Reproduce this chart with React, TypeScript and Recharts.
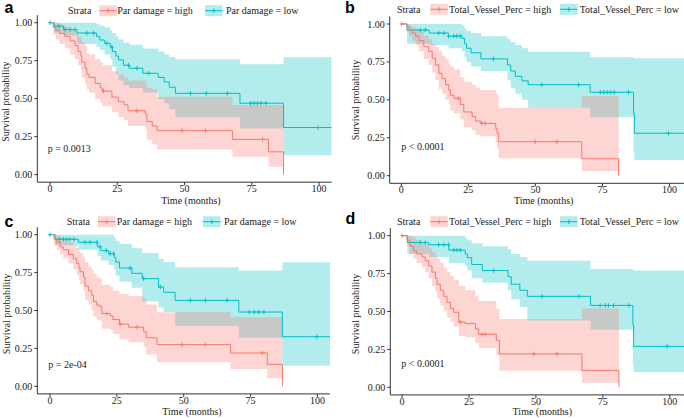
import React from 'react';
import { ComposedChart, XAxis, YAxis, Area, Line, Scatter } from 'recharts';

type Row = [number, number, number, number]; // time, survival, lower CI, upper CI

const RED = '#F8766D';
const CYAN = '#00BFC4';
const SERIF = '"Liberation Serif", "Times New Roman", serif';
const SANS = '"Liberation Sans", Arial, sans-serif';

const xTicks = [0, 25, 50, 75, 100];
const yTicks = [0, 0.25, 0.5, 0.75, 1];
const panelLetters = ['a', 'b', 'c', 'd'];
const pValues = ['p = 0.0013', 'p < 0.0001', 'p = 2e-04', 'p < 0.0001'];
const parLabels = ['Par damage = high', 'Par damage = low'];
const vesselLabels = ['Total_Vessel_Perc = high', 'Total_Vessel_Perc = low'];
const strataTitle = 'Strata';
const xTitle = 'Time (months)';
const yTitle = 'Survival probability';

// ---- Panel a ----
const aHigh: Row[] = [
  [0, 1, 1, 1], [1.2, 0.97, 0.92, 1], [2.2, 0.95, 0.89, 1], [3.5, 0.93, 0.86, 0.99],
  [5.5, 0.91, 0.83, 0.97], [7.5, 0.88, 0.79, 0.95], [9.3, 0.85, 0.76, 0.93], [10.5, 0.81, 0.72, 0.91],
  [11.5, 0.78, 0.68, 0.89], [11.8, 0.74, 0.64, 0.87], [13, 0.7, 0.6, 0.85], [13.7, 0.66, 0.56, 0.8],
  [14.5, 0.64, 0.54, 0.79], [16.8, 0.6, 0.5, 0.76], [18.7, 0.57, 0.47, 0.74], [19.5, 0.55, 0.45, 0.72],
  [23, 0.51, 0.41, 0.68], [25.4, 0.48, 0.38, 0.66], [27.5, 0.46, 0.36, 0.64], [29, 0.42, 0.32, 0.62],
  [35.4, 0.4, 0.3, 0.6], [36, 0.35, 0.23, 0.57], [38, 0.32, 0.2, 0.56], [39.8, 0.289, 0.166, 0.513],
  [67.8, 0.232, 0.117, 0.458], [81.2, 0.15, 0.051, 0.458], [86.8, 0, 0.051, 0.458],
];
const aLow: Row[] = [
  [0, 1, 1, 1], [1.5, 0.977, 0.935, 1], [5, 0.955, 0.915, 1], [10, 0.932, 0.86, 1],
  [17.3, 0.91, 0.84, 0.99], [18.5, 0.886, 0.82, 0.98], [20.3, 0.864, 0.79, 0.97], [22.4, 0.84, 0.76, 0.95],
  [23.2, 0.81, 0.71, 0.93], [24.5, 0.78, 0.66, 0.91], [25.5, 0.755, 0.62, 0.89], [27.3, 0.72, 0.59, 0.87],
  [29.5, 0.7, 0.57, 0.855], [34.5, 0.667, 0.54, 0.83], [40.2, 0.64, 0.5, 0.81], [42.5, 0.61, 0.47, 0.79],
  [44.3, 0.575, 0.43, 0.775], [46.6, 0.535, 0.377, 0.759], [70.6, 0.47, 0.304, 0.726],
  [86.8, 0.31, 0.128, 0.772], [104.7, 0.31, 0.128, 0.772],
];
const aHighCens = [19.8, 32.3, 49.1, 57.8, 79];
const aLowCens = [0, 3.3, 5.6, 7.5, 9.3, 13.7, 16.2, 21.1, 23, 29.2, 32.3, 36.7, 52.2, 58.1, 65.9, 74.6, 75.9, 77.1, 78.4, 80.2, 99.5];

// ---- Panel b ----
const bHigh: Row[] = [
  [0, 1, 1, 1], [2.2, 0.98, 0.95, 1], [3, 0.96, 0.92, 0.99], [4, 0.94, 0.89, 0.98],
  [5.3, 0.92, 0.86, 0.97], [6.5, 0.89, 0.82, 0.95], [8.4, 0.85, 0.77, 0.92], [10.2, 0.82, 0.73, 0.9],
  [11.5, 0.775, 0.68, 0.87], [12.7, 0.73, 0.63, 0.85], [14, 0.675, 0.57, 0.82], [15.2, 0.64, 0.54, 0.79],
  [16.5, 0.6, 0.5, 0.77], [17.7, 0.565, 0.47, 0.74], [18.3, 0.53, 0.43, 0.72], [19.6, 0.51, 0.41, 0.7],
  [22, 0.47, 0.37, 0.65], [23.3, 0.42, 0.32, 0.62], [26.4, 0.39, 0.3, 0.6], [27.7, 0.36, 0.27, 0.58],
  [29.5, 0.345, 0.26, 0.565], [35.2, 0.31, 0.22, 0.545], [35.7, 0.28, 0.18, 0.53], [36.3, 0.224, 0.115, 0.448],
  [67.3, 0.112, 0.031, 0.525], [81, 0, 0.031, 0.525],
];
const bLow: Row[] = [
  [0, 1, 1, 1], [2.1, 0.96, 0.87, 1], [10.4, 0.94, 0.86, 1], [17.6, 0.92, 0.84, 1],
  [22.6, 0.905, 0.82, 0.99], [23.6, 0.87, 0.78, 0.97], [24.3, 0.84, 0.75, 0.955], [26, 0.81, 0.72, 0.94],
  [29.7, 0.77, 0.69, 0.92], [39.6, 0.73, 0.63, 0.9], [40.8, 0.69, 0.58, 0.88], [42.5, 0.655, 0.54, 0.86],
  [45, 0.625, 0.5, 0.84], [47.3, 0.6, 0.448, 0.817], [70.4, 0.55, 0.385, 0.78], [86.6, 0.41, 0.15, 0.775],
  [86.9, 0.28, 0.103, 0.774], [105.4, 0.28, 0.103, 0.774],
];
const bHighCens = [0, 21.4, 30, 31.3, 49.9, 58];
const bLowCens = [7.1, 8.9, 13.9, 15.8, 17.6, 19.5, 20.7, 22, 34.4, 52.4, 66.1, 74.2, 75.5, 76.8, 78.1, 79.4, 84.7, 99.6];

// ---- Panel c ----
const cHigh: Row[] = [
  [0, 1, 1, 1], [1.5, 0.97, 0.93, 1], [2.5, 0.95, 0.9, 0.99], [3.8, 0.92, 0.87, 0.98],
  [5, 0.9, 0.845, 0.97], [6.9, 0.87, 0.81, 0.95], [8.75, 0.84, 0.77, 0.93], [10, 0.81, 0.735, 0.91],
  [10.8, 0.78, 0.7, 0.89], [11.25, 0.755, 0.675, 0.88], [12.5, 0.72, 0.63, 0.85], [13.1, 0.66, 0.57, 0.82],
  [14.4, 0.63, 0.54, 0.79], [15.6, 0.6, 0.5, 0.77], [16.25, 0.56, 0.46, 0.74], [17.5, 0.535, 0.44, 0.72],
  [18.75, 0.525, 0.43, 0.71], [19.4, 0.48, 0.38, 0.67], [22.5, 0.465, 0.37, 0.655], [23.5, 0.44, 0.345, 0.63],
  [26, 0.41, 0.31, 0.61], [29.4, 0.39, 0.29, 0.595], [35, 0.36, 0.26, 0.58], [36, 0.32, 0.21, 0.54],
  [40, 0.275, 0.158, 0.488], [67.5, 0.22, 0.114, 0.455], [81.25, 0.145, 0.053, 0.455], [86.9, 0, 0.053, 0.455],
];
const cLow: Row[] = [
  [0, 1, 1, 1], [1.9, 0.97, 0.93, 1], [10.6, 0.95, 0.9, 1], [17.8, 0.92, 0.86, 1],
  [19, 0.895, 0.83, 1], [21.9, 0.875, 0.8, 1], [24, 0.85, 0.77, 0.98], [24.6, 0.82, 0.73, 0.96],
  [26, 0.78, 0.69, 0.94], [30.6, 0.745, 0.65, 0.91], [34.5, 0.71, 0.56, 0.88], [40.6, 0.655, 0.52, 0.84],
  [42.5, 0.62, 0.49, 0.82], [46.8, 0.567, 0.4, 0.785], [70.6, 0.49, 0.32, 0.763],
  [86.9, 0.327, 0.136, 0.818], [104.7, 0.327, 0.136, 0.818],
];
const cHighCens = [21.25, 26.25, 32.5, 49.4, 58.1, 79.4];
const cLowCens = [0, 3.5, 5, 6.25, 7.5, 9, 13.1, 15, 17.5, 18.75, 21, 22.5, 23.75, 30, 35, 41.25, 52.5, 58.1, 66.25, 74.4, 76.3, 78.1, 80, 99.75];

// ---- Panel d ----
const dHigh: Row[] = [
  [0, 1, 1, 1], [1.9, 0.97, 0.93, 1], [3, 0.93, 0.88, 0.995], [4.3, 0.9, 0.85, 0.985],
  [5.5, 0.88, 0.82, 0.97], [7.5, 0.86, 0.79, 0.955], [8.7, 0.835, 0.76, 0.94], [10, 0.8, 0.72, 0.92],
  [11.2, 0.76, 0.67, 0.89], [12.45, 0.72, 0.63, 0.87], [13.1, 0.68, 0.58, 0.85], [14.3, 0.64, 0.54, 0.82],
  [15.6, 0.6, 0.5, 0.79], [16.8, 0.56, 0.46, 0.76], [18.1, 0.52, 0.43, 0.735], [19.3, 0.495, 0.4, 0.71],
  [21.2, 0.43, 0.34, 0.67], [23.6, 0.42, 0.33, 0.64], [27.4, 0.385, 0.29, 0.6], [28.6, 0.35, 0.26, 0.57],
  [35.2, 0.31, 0.21, 0.52], [36.4, 0.22, 0.11, 0.45], [67.2, 0.11, 0.03, 0.52], [81, 0, 0.03, 0.52],
];
const dLow: Row[] = [
  [0, 1, 1, 1], [2, 0.955, 0.88, 1], [10, 0.94, 0.86, 1], [17.5, 0.905, 0.82, 1],
  [23.6, 0.88, 0.8, 0.985], [24.4, 0.855, 0.77, 0.97], [26, 0.81, 0.72, 0.95], [30, 0.77, 0.69, 0.93],
  [39.6, 0.73, 0.64, 0.91], [40.8, 0.68, 0.58, 0.88], [44, 0.64, 0.53, 0.86], [46.8, 0.6, 0.44, 0.835],
  [70.4, 0.54, 0.38, 0.78], [86.2, 0.41, 0.15, 0.775], [86.5, 0.27, 0.1, 0.77], [105.3, 0.27, 0.1, 0.77],
];
const dHighCens = [0, 21.8, 29.9, 31.1, 49.2, 57.9];
const dLowCens = [6.8, 8.7, 13.7, 15.6, 17.4, 19.3, 20.5, 21.8, 34.2, 52.3, 66, 74, 75.9, 77.1, 79, 84.7, 99];

const toPoints = (rows: Row[]) => rows.map(([t, s, lo, hi]) => ({ t, s, band: [lo, hi] }));
const censorPoints = (rows: Row[], times: number[]) =>
  times.map((t) => {
    let s = rows[0][1];
    for (const r of rows) if (r[0] <= t) s = r[1];
    return { t, s };
  });

const plus = (color: string) => (props: any) => {
  const { cx, cy } = props;
  if (cx == null || cy == null) return <g />;
  return (
    <path
      d={`M${cx - 2},${cy}H${cx + 2}M${cx},${cy - 2.3}V${cy + 2.3}`}
      stroke={color}
      strokeWidth={0.9}
      fill="none"
    />
  );
};

type Layout = {
  left: number; top: number; plotLeft: number; plotRight: number; plotTop: number; plotBottom: number;
  x0: number; x1: number;
  legendY: number; legendX: number[]; yLab: [number, number]; xLab: [number, number]; pPos: [number, number];
  letterPos: [number, number];
};

const layouts: Layout[] = [
  { left: 0, top: 0, plotLeft: 37.3, plotRight: 331.7, plotTop: 15.1, plotBottom: 182.2, x0: -4.72, x1: 104.7,
    legendY: 10.7, legendX: [68, 99.3, 117.3, 205, 226], yLab: [5.8, 101.7], xLab: [191, 200], pPos: [47.7, 148.3], letterPos: [4.6, 12.8] },
  { left: 342, top: 0, plotLeft: 47.7, plotRight: 342, plotTop: 16.4, plotBottom: 183.3, x0: -4.33, x1: 105.4,
    legendY: 9.3, legendX: [397, 430.3, 449, 560, 579.7], yLab: [355, 100], xLab: [543.7, 200.3], pPos: [401.3, 146.7], letterPos: [345, 13.3] },
  { left: 0, top: 209, plotLeft: 37.3, plotRight: 330, plotTop: 18.1, plotBottom: 184.9, x0: -4.75, x1: 104.7,
    legendY: 221.7, legendX: [66.7, 98, 116.7, 203, 224], yLab: [6, 314], xLab: [192, 411.3], pPos: [48.3, 364], letterPos: [4.6, 227.3] },
  { left: 342, top: 209, plotLeft: 48.3, plotRight: 342, plotTop: 19.1, plotBottom: 185.9, x0: -4.37, x1: 105.3,
    legendY: 221.7, legendX: [397, 430.3, 449, 560, 579.7], yLab: [355.3, 314], xLab: [542.3, 411.3], pPos: [401.3, 363], letterPos: [345.5, 224.3] },
];

const panels = [
  { high: aHigh, low: aLow, highCens: aHighCens, lowCens: aLowCens, labels: parLabels },
  { high: bHigh, low: bLow, highCens: bHighCens, lowCens: bLowCens, labels: vesselLabels },
  { high: cHigh, low: cLow, highCens: cHighCens, lowCens: cLowCens, labels: parLabels },
  { high: dHigh, low: dLow, highCens: dHighCens, lowCens: dLowCens, labels: vesselLabels },
];

const W = 342;
const H = 209;

function Panel({ idx }: { idx: number }) {
  const L = layouts[idx];
  const P = panels[idx];
  const highPts = toPoints(P.high);
  const lowPts = toPoints(P.low);
  const highC = censorPoints(P.high, P.highCens);
  const lowC = censorPoints(P.low, P.lowCens);
  const tickStyle = { fontSize: 10, fontFamily: SERIF, fill: '#1a1a1a' };
  return (
    <div style={{ position: 'absolute', left: L.left, top: L.top, width: W, height: H }}>
      <ComposedChart
        width={W}
        height={H}
        margin={{ top: L.plotTop, right: W - L.plotRight, bottom: 0, left: 0 }}
      >
        <XAxis
          type="number"
          dataKey="t"
          domain={[L.x0, L.x1]}
          ticks={xTicks}
          allowDataOverflow
          height={H - L.plotBottom}
          tickSize={3}
          tickMargin={0}
          stroke="#333"
          tick={tickStyle}
          interval={0}
        />
        <YAxis
          type="number"
          domain={[-0.05, 1.05]}
          ticks={yTicks}
          allowDataOverflow
          width={L.plotLeft}
          tickSize={3}
          tickMargin={2}
          stroke="#333"
          tick={tickStyle}
          interval={0}
          tickFormatter={(v: number) => v.toFixed(2)}
        />
        <Area data={lowPts} dataKey="band" type="stepAfter" stroke="none" fill={CYAN} fillOpacity={0.3} isAnimationActive={false} activeDot={false} />
        <Area data={highPts} dataKey="band" type="stepAfter" stroke="none" fill={RED} fillOpacity={0.3} isAnimationActive={false} activeDot={false} />
        <Line data={lowPts} dataKey="s" type="stepAfter" stroke={CYAN} strokeWidth={1} dot={false} activeDot={false} isAnimationActive={false} />
        <Line data={highPts} dataKey="s" type="stepAfter" stroke={RED} strokeWidth={1} dot={false} activeDot={false} isAnimationActive={false} />
        <Scatter data={lowC} dataKey="s" shape={plus(CYAN)} isAnimationActive={false} />
        <Scatter data={highC} dataKey="s" shape={plus(RED)} isAnimationActive={false} />
      </ComposedChart>
    </div>
  );
}

function LegendKey({ x, y, color }: { x: number; y: number; color: string }) {
  const w = 17.5;
  const h = 11;
  return (
    <g>
      <rect x={x} y={y - h / 2} width={w} height={h} fill={color} fillOpacity={0.3} />
      <line x1={x} x2={x + w} y1={y} y2={y} stroke={color} strokeWidth={1} />
      <path d={`M${x + w / 2 - 2},${y}H${x + w / 2 + 2}M${x + w / 2},${y - 2.3}V${y + 2.3}`} stroke={color} strokeWidth={0.9} />
    </g>
  );
}

function Overlay() {
  return (
    <svg width={684} height={418} style={{ position: 'absolute', left: 0, top: 0, pointerEvents: 'none' }}>
      {layouts.map((L, i) => {
        const P = panels[i];
        return (
          <g key={i} fontFamily={SERIF} fontSize={10} fill="#1a1a1a">
            <text x={L.letterPos[0]} y={L.letterPos[1]} fontFamily={SANS} fontWeight="bold" fontSize={16} fill="#000">
              {panelLetters[i]}
            </text>
            <text x={L.legendX[0]} y={L.legendY} dominantBaseline="central">{strataTitle}</text>
            <LegendKey x={L.legendX[1]} y={L.legendY} color={RED} />
            <text x={L.legendX[2]} y={L.legendY} dominantBaseline="central">{P.labels[0]}</text>
            <LegendKey x={L.legendX[3]} y={L.legendY} color={CYAN} />
            <text x={L.legendX[4]} y={L.legendY} dominantBaseline="central">{P.labels[1]}</text>
            <text
              transform={`translate(${L.yLab[0]},${L.yLab[1]}) rotate(-90)`}
              textAnchor="middle"
              dominantBaseline="central"
            >
              {yTitle}
            </text>
            <text x={L.xLab[0]} y={L.xLab[1]} textAnchor="middle" dominantBaseline="central">{xTitle}</text>
            <text x={L.pPos[0]} y={L.pPos[1]} dominantBaseline="central">{pValues[i]}</text>
          </g>
        );
      })}
    </svg>
  );
}

export default function App() {
  return (
    <div style={{ position: 'absolute', left: 0, top: 0, width: 684, height: 418, background: '#fff', overflow: 'hidden' }}>
      {[0, 1, 2, 3].map((i) => (
        <Panel key={i} idx={i} />
      ))}
      <Overlay />
    </div>
  );
}
